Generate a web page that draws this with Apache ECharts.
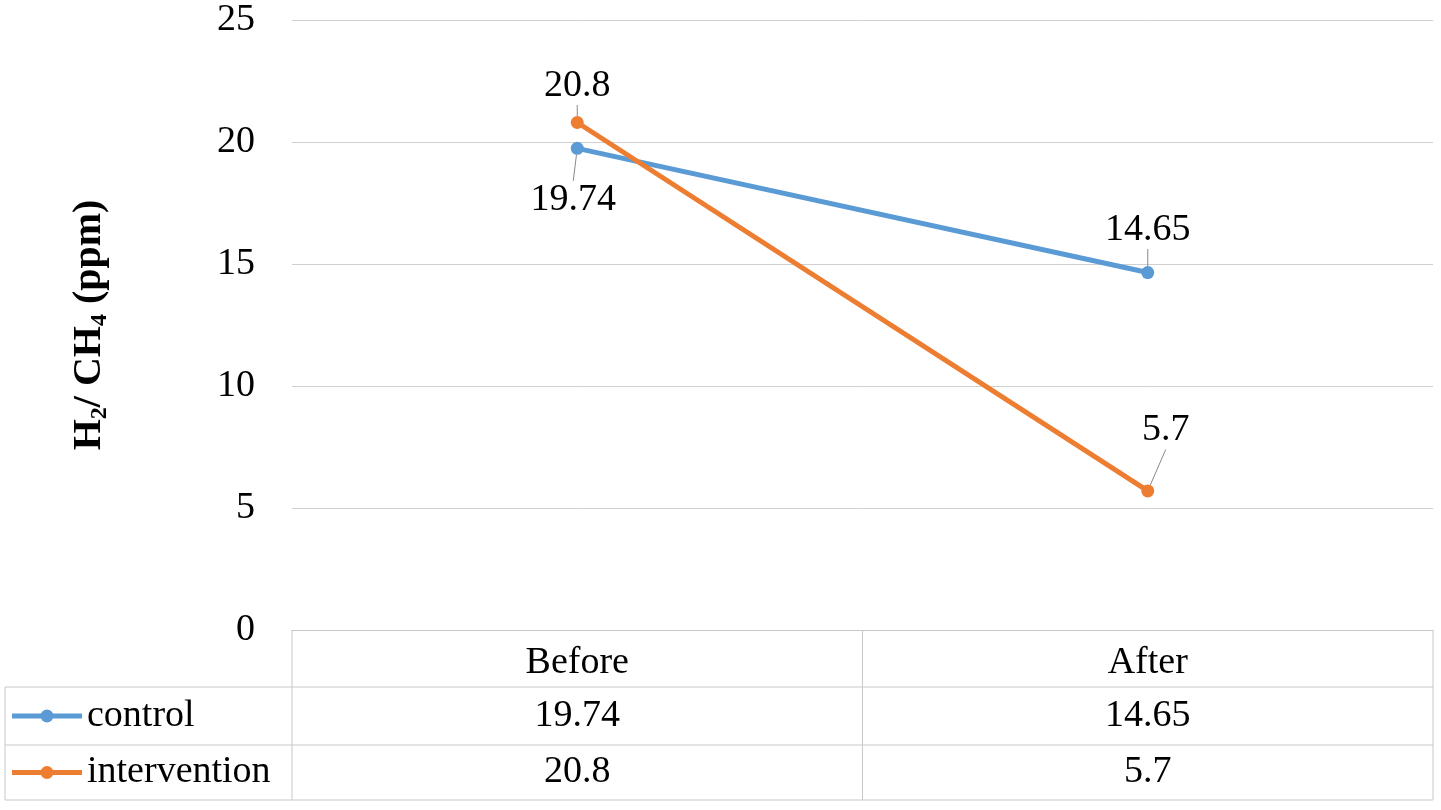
<!DOCTYPE html>
<html>
<head>
<meta charset="utf-8">
<script src="https://cdn.jsdelivr.net/npm/echarts@6/dist/echarts.min.js"></script>
<style>html,body{margin:0;padding:0;background:#fff}#chart{width:1441px;height:810px}</style>
</head>
<body>
<div id="chart"></div>
<script>
var categories = ['Before', 'After'];
var seriesNames = ['control', 'intervention'];
var controlValues = [19.74, 14.65];
var interventionValues = [20.8, 5.7];
var colors = ['#5B9BD5', '#ED7D31'];

var font = 'Liberation Serif';
var fs = 38;
var chart = echarts.init(document.getElementById('chart'));

var option = {
    animation: false,
    grid: {left: 292, right: 8, top: 20, bottom: 180},
    xAxis: {
        type: 'category',
        data: categories,
        axisLine: {lineStyle: {color: '#c8c8c8', width: 1}},
        axisTick: {show: false},
        axisLabel: {fontFamily: font, fontSize: fs, color: '#000', margin: 14}
    },
    yAxis: {
        type: 'value',
        min: 0, max: 25, interval: 5,
        axisLine: {show: false},
        axisTick: {show: false},
        axisLabel: {fontFamily: font, fontSize: fs, color: '#000', margin: 37},
        splitLine: {lineStyle: {color: '#d0d0d0', width: 1}},
        name: 'H{s|2}/ CH{s|4} (ppm)',
        nameLocation: 'middle',
        nameGap: 180,
        nameRotate: 90,
        nameTextStyle: {
            fontFamily: font, fontSize: 40, fontWeight: 'bold', color: '#000',
            rich: {s: {fontFamily: font, fontSize: 24, fontWeight: 'bold', verticalAlign: 'bottom', padding: [20, 0, 0, 0]}}
        }
    },
    series: [
        {
            name: seriesNames[0], type: 'line', data: controlValues,
            color: colors[0], symbol: 'circle', symbolSize: 13,
            lineStyle: {width: 5},
            label: {show: true, fontFamily: font, fontSize: fs, color: '#000', position: 'top'},
            labelLine: {show: true, lineStyle: {color: '#888'}},
            labelLayout: function (p) {
                return p.dataIndex === 0 ? {dx: -4, dy: 82} : {dy: -12};
            }
        },
        {
            name: seriesNames[1], type: 'line', data: interventionValues,
            color: colors[1], symbol: 'circle', symbolSize: 13,
            lineStyle: {width: 5},
            label: {show: true, fontFamily: font, fontSize: fs, color: '#000', position: 'top'},
            labelLine: {show: true, lineStyle: {color: '#888'}},
            labelLayout: function (p) {
                return p.dataIndex === 0 ? {dy: -6} : {dx: 18, dy: -30};
            }
        }
    ]
};
chart.setOption(option);

// data table below the plot
var rows = [controlValues, interventionValues];
var rowTops = [687, 745];
var rowBottom = 800;
var left = 292, right = 1433, tableLeft = 5, tableTop = 630;
var lineStyle = {stroke: '#c8c8c8', lineWidth: 1};
var els = [];
function hline(x1, x2, y) { els.push({type: 'line', shape: {x1: x1, y1: y, x2: x2, y2: y}, style: lineStyle}); }
function vline(x, y1, y2) { els.push({type: 'line', shape: {x1: x, y1: y1, x2: x, y2: y2}, style: lineStyle}); }
hline(tableLeft, right, rowTops[0]);
hline(tableLeft, right, rowTops[1]);
hline(tableLeft, right, rowBottom);
vline(tableLeft, rowTops[0], rowBottom);
var x0 = chart.convertToPixel({xAxisIndex: 0}, categories[0]);
var x1 = chart.convertToPixel({xAxisIndex: 0}, categories[1]);
var mid = (x0 + x1) / 2;
vline(left, tableTop, rowBottom);
vline(mid, tableTop, rowBottom);
vline(right, tableTop, rowBottom);
rows.forEach(function (vals, r) {
    var cy = (rowTops[r] + (r + 1 < rowTops.length ? rowTops[r + 1] : rowBottom)) / 2;
    els.push({type: 'line', shape: {x1: 12, y1: cy, x2: 82, y2: cy}, style: {stroke: colors[r], lineWidth: 5}});
    els.push({type: 'circle', shape: {cx: 47, cy: cy, r: 6.5}, style: {fill: colors[r]}});
    els.push({type: 'text', x: 87, y: cy, style: {text: seriesNames[r], font: fs + 'px "' + font + '"', fill: '#000', textVerticalAlign: 'middle'}});
    vals.forEach(function (v, c) {
        var x = chart.convertToPixel({xAxisIndex: 0}, categories[c]);
        els.push({type: 'text', x: x, y: cy, style: {text: String(v), font: fs + 'px "' + font + '"', fill: '#000', textAlign: 'center', textVerticalAlign: 'middle'}});
    });
});
chart.setOption({graphic: els});
</script>
</body>
</html>
